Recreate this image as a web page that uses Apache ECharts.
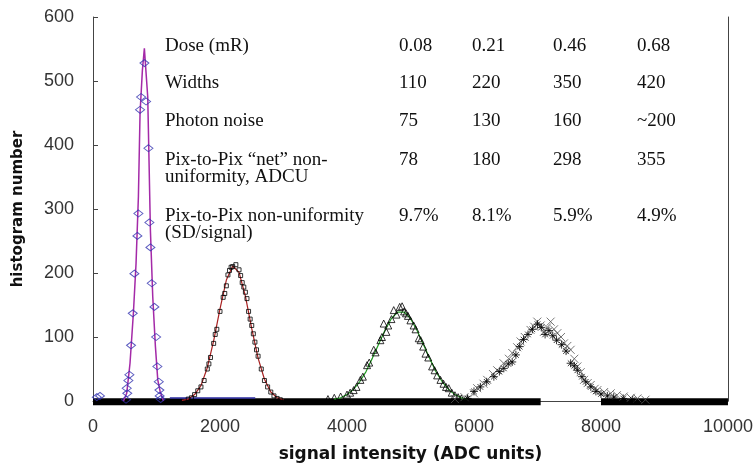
<!DOCTYPE html>
<html>
<head>
<meta charset="utf-8">
<title>histogram number vs signal intensity</title>
<script src="https://cdn.jsdelivr.net/npm/echarts@6/dist/echarts.min.js"></script>
<style>
  html, body { margin: 0; padding: 0; background: #fff; }
  #main { width: 756px; height: 468px; }
</style>
</head>
<body>
<div id="main"></div>
<script>
// axis ticks
const xTicks = [0, 2000, 4000, 6000, 8000, 10000]
const yTicks = [0, 100, 200, 300, 400, 500, 600]

// dose 0.08 mR : diamonds + purple fit
const dose08Points = [[60, 6], [110, 8], [520, 2], [531, 20], [540, 12], [557, 32], [573, 41], [599, 87],
  [626, 137], [652, 199], [699, 258], [715, 293], [741, 455], [757, 475], [810, 528], [836, 468],
  [873, 395], [888, 279], [904, 240], [925, 184], [967, 147], [994, 100], [1014, 54], [1036, 30],
  [1046, 17], [1050, 8], [1065, 3]]
const dose08Fit = [[480, 0], [531, 12], [583, 59], [636, 137], [678, 215], [715, 319], [741, 450],
  [778, 517], [809, 551], [836, 548], [862, 475], [883, 372], [904, 267], [941, 163], [983, 85],
  [1020, 33], [1057, 15], [1110, 0]]

// dose 0.21 mR : squares + red fit
const dose21Points = [[1500, 3], [1550, 5], [1600, 10], [1650, 16], [1700, 22], [1750, 32], [1800, 50],
  [1825, 58], [1850, 68], [1900, 90], [1925, 104], [1950, 112], [2000, 140], [2050, 162], [2075, 168],
  [2100, 180], [2125, 197], [2150, 204], [2175, 209], [2200, 210], [2250, 213], [2300, 205], [2325, 196],
  [2350, 185], [2375, 178], [2400, 170], [2425, 160], [2450, 140], [2475, 128], [2500, 118], [2525, 105],
  [2550, 92], [2575, 80], [2600, 70], [2650, 50], [2700, 32], [2750, 22], [2800, 14], [2850, 8],
  [2900, 4], [2950, 2]]
const dose21Fit = [[1400, 1], [1500, 3], [1600, 10], [1700, 24], [1800, 52], [1900, 94], [2000, 144],
  [2100, 189], [2200, 211], [2300, 201], [2400, 164], [2500, 113], [2600, 67], [2700, 34], [2800, 14],
  [2900, 5], [3000, 2]]

// dose 0.46 mR : triangles + green fit
const dose46Points = [[3700, 3], [3800, 5], [3900, 7], [4000, 10], [4050, 13], [4105, 17], [4150, 22],
  [4211, 33], [4250, 38], [4316, 56], [4350, 60], [4421, 80], [4450, 76], [4526, 95], [4550, 100],
  [4578, 121], [4620, 108], [4650, 118], [4700, 128], [4736, 142], [4780, 135], [4830, 147], [4868, 148],
  [4900, 140], [4930, 137], [4960, 133], [4999, 126], [5050, 118], [5080, 112], [5130, 98], [5160, 95],
  [5200, 85], [5236, 74], [5280, 68], [5341, 54], [5380, 48], [5420, 40], [5472, 33], [5520, 27],
  [5560, 22], [5603, 20], [5650, 13], [5700, 9], [5750, 6], [5800, 4], [5900, 3]]
const dose46Fit = [[3800, 3], [3900, 5], [4000, 10], [4100, 18], [4200, 30], [4300, 46], [4400, 67],
  [4500, 89], [4600, 111], [4700, 129], [4800, 139], [4900, 139], [5000, 129], [5100, 111], [5200, 89],
  [5300, 67], [5400, 46], [5500, 30], [5600, 18], [5700, 10], [5800, 5], [5900, 3]]

// dose 0.68 mR : crosses and stars
const dose68Crosses = [[5700, 3], [5850, 6], [6000, 12], [6050, 20], [6150, 27], [6208, 33], [6300, 42],
  [6366, 48], [6466, 59], [6550, 66], [6603, 75], [6680, 84], [6734, 93], [6800, 100], [6891, 111],
  [6950, 116], [6997, 124], [7050, 118], [7101, 108], [7150, 115], [7207, 124], [7260, 112], [7313, 106],
  [7370, 100], [7417, 90], [7470, 86], [7522, 80], [7580, 66], [7628, 54], [7680, 45], [7733, 33],
  [7790, 28], [7838, 25], [7900, 19], [7943, 17], [8050, 14], [8153, 12], [8250, 9], [8358, 7],
  [8470, 5], [8574, 4], [8700, 2]]
const dose68Stars = [[5900, 4], [6000, 15], [6100, 22], [6200, 30], [6313, 38], [6400, 46], [6470, 51],
  [6540, 58], [6602, 61], [6660, 72], [6720, 85], [6780, 96], [6850, 104], [6920, 112], [7000, 120],
  [7060, 115], [7120, 104], [7180, 110], [7240, 102], [7300, 95], [7380, 88], [7450, 78], [7522, 59],
  [7580, 55], [7628, 48], [7700, 38], [7760, 30], [7840, 22], [7920, 15], [8000, 11], [8100, 8],
  [8200, 6], [8350, 4], [8500, 2]]

// zero counts piled on the axis
const zeroBandA = [[0, -1], [7050, -1]]
const zeroBandB = [[8000, -1], [10000, -1]]
const zeroBlue = [[1210, 4.5], [2555, 4.5]]

// table text
const rowLabels = [['Dose (mR)'], ['Widths'], ['Photon noise'],
  ['Pix-to-Pix \u201cnet\u201d non-', 'uniformity, ADCU'], ['Pix-to-Pix non-uniformity', '(SD/signal)']]
const doses = ['0.08', '0.21', '0.46', '0.68']
const widths = ['110', '220', '350', '420']
const photonNoise = ['75', '130', '160', '~200']
const netNonUniformity = ['78', '180', '298', '355']
const nonUniformityPct = ['9.7%', '8.1%', '5.9%', '4.9%']

const rowY = [46, 83, 121, 160, 216]
const colX = [399, 472, 553, 637]
const labelX = 165
const lineGap = 17
const tableFont = '19px "Liberation Serif", "Times New Roman", serif'

function buildTable () {
  const elements = []
  const rows = [doses, widths, photonNoise, netNonUniformity, nonUniformityPct]
  rowLabels.forEach(function (lines, i) {
    lines.forEach(function (line, k) {
      elements.push({type: 'text', x: labelX, y: rowY[i] + k * lineGap,
        style: {text: line, font: tableFont, fill: '#111', verticalAlign: 'middle'}})
    })
    rows[i].forEach(function (val, j) {
      elements.push({type: 'text', x: colX[j], y: rowY[i],
        style: {text: val, font: tableFont, fill: '#111', verticalAlign: 'middle'}})
    })
  })
  return elements
}

const crossPath = 'path://M0,0L10,10M10,0L0,10'
const starPath = 'path://M5,0L5,10M0,5L10,5M1.5,1.5L8.5,8.5M8.5,1.5L1.5,8.5'

function scatter (data, symbol, size, color) {
  return {type: 'scatter', data: data, symbol: symbol, symbolSize: size, z: 4,
    itemStyle: {color: 'rgba(0,0,0,0)', borderColor: color, borderWidth: 1}}
}
function line (data, color, width, z) {
  return {type: 'line', data: data, symbol: 'none', clip: false, z: z,
    lineStyle: {color: color, width: width}}
}

const axisColor = '#444'
const labelFont = {fontFamily: 'Liberation Sans', fontSize: 18, color: '#333',
  formatter: function (v) { return String(v) }}

const chart = echarts.init(document.getElementById('main'), null, {renderer: 'canvas'})
chart.setOption({
  animation: false,
  grid: {left: 93, right: 28, top: 17, bottom: 67},
  xAxis: {
    type: 'value', min: xTicks[0], max: xTicks[xTicks.length - 1], interval: xTicks[1] - xTicks[0],
    name: 'signal intensity (ADC units)', nameLocation: 'middle', nameGap: 45,
    nameTextStyle: {fontFamily: 'DejaVu Sans', fontWeight: 'bold', fontSize: 17, color: '#111'},
    axisLine: {lineStyle: {color: axisColor}},
    axisTick: {show: false},
    axisLabel: Object.assign({margin: 17}, labelFont),
    splitLine: {show: false}
  },
  yAxis: [{
    type: 'value', min: yTicks[0], max: yTicks[yTicks.length - 1], interval: yTicks[1] - yTicks[0],
    name: 'histogram number', nameLocation: 'middle', nameGap: 67,
    nameTextStyle: {fontFamily: 'DejaVu Sans', fontWeight: 'bold', fontSize: 15, color: '#111'},
    axisLine: {show: true, lineStyle: {color: axisColor}},
    axisTick: {show: true, inside: true, length: 5, lineStyle: {color: axisColor}},
    axisLabel: Object.assign({margin: 19}, labelFont),
    splitLine: {show: false}
  }, {
    type: 'value', position: 'right', min: yTicks[0], max: yTicks[yTicks.length - 1],
    axisLine: {show: true, lineStyle: {color: axisColor}},
    axisTick: {show: false}, axisLabel: {show: false}, splitLine: {show: false}
  }],
  graphic: buildTable(),
  series: [
    line(zeroBandA, '#000', 7, 1),
    line(zeroBandB, '#000', 7, 1),
    line(zeroBlue, '#2a2aa0', 1.5, 2),
    line(dose08Fit, '#a42aa8', 1.5, 3),
    line(dose21Fit, '#a82020', 1.2, 3),
    line(dose46Fit, '#1f9a1f', 1.2, 3),
    scatter(dose08Points, 'diamond', [9, 7], '#3333b0'),
    scatter(dose21Points, 'rect', 4, '#000'),
    scatter(dose46Points, 'triangle', 7, '#000'),
    scatter(dose68Crosses, crossPath, 8, '#555'),
    scatter(dose68Stars, starPath, 8, '#000')
  ]
})
</script>
</body>
</html>
